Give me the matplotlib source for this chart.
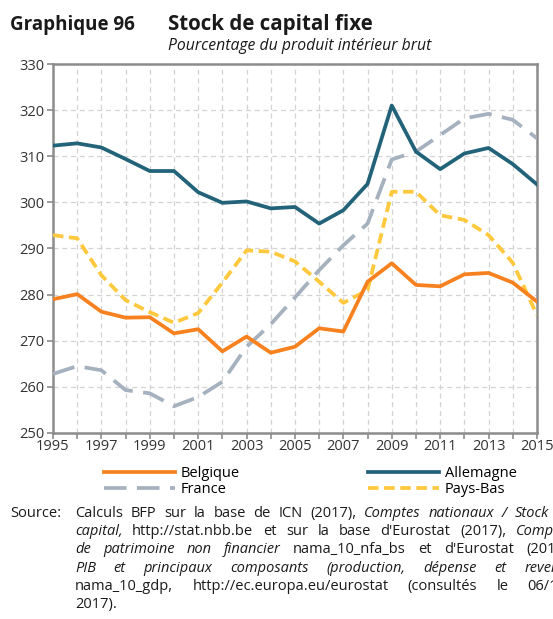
import matplotlib.pyplot as plt
import numpy as np

plt.rcParams['font.family'] = ['Open Sans', 'DejaVu Sans']

years = np.arange(1995, 2016)

# Stock de capital fixe, % du PIB
belgique = [279.0, 280.1, 276.3, 275.0, 275.1, 271.6, 272.5, 267.7, 270.9, 267.4,
            268.7, 272.7, 272.0, 282.8, 286.8, 282.1, 281.8, 284.4, 284.7, 282.6, 278.5]
allemagne = [312.3, 312.8, 311.9, 309.4, 306.8, 306.8, 302.2, 299.9, 300.2, 298.7,
             299.0, 295.4, 298.3, 304.0, 321.0, 311.0, 307.2, 310.6, 311.8, 308.3, 303.9]
france = [262.8, 264.5, 263.6, 259.3, 258.6, 255.8, 257.8, 261.1, 268.7, 273.6,
          279.4, 285.3, 290.7, 295.4, 309.3, 311.0, 314.6, 318.2, 319.2, 317.9, 313.9]
pays_bas = [292.9, 292.2, 284.2, 278.8, 276.2, 273.9, 276.0, 282.6, 289.6, 289.3,
            287.2, 282.8, 278.2, 281.0, 302.3, 302.3, 297.2, 296.2, 292.9, 286.9, 275.6]

c_be = '#F7811E'
c_de = '#22637A'
c_fr = '#A6B1BF'
c_nl = '#FFC83D'
grey = '#8C8C8C'
txt = '#1A1A1A'
W, H = 553, 619

fig = plt.figure(figsize=(5.53, 6.19), dpi=100)
ax = fig.add_axes([0.0958, 0.3005, 0.8752, 0.5961])

ax.plot(years, belgique, color=c_be, lw=2.7, label='Belgique', zorder=4)
ax.plot(years, allemagne, color=c_de, lw=2.7, label='Allemagne', zorder=4)
ax.plot(years, france, color=c_fr, lw=2.7, dashes=(6.0, 2.8), label='France', zorder=3)
ax.plot(years, pays_bas, color=c_nl, lw=2.7, dashes=(2.8, 1.5), label='Pays-Bas', zorder=3)

ax.set_xlim(1995, 2015)
ax.set_ylim(250, 330)
ax.set_xticks(np.arange(1995, 2016, 2))
ax.set_xticks(np.arange(1995, 2016, 1), minor=True)
ax.set_yticks(np.arange(250, 331, 10))

ax.grid(True, which='both', axis='x', color='#D3D3D3', ls=(0, (4, 3)), lw=0.9)
ax.grid(True, which='major', axis='y', color='#D3D3D3', ls=(0, (4, 3)), lw=0.9)

for s in ax.spines.values():
    s.set_color(grey)
    s.set_linewidth(1.8)
ax.tick_params(axis='both', which='both', color=grey, width=1.2, length=4,
               labelsize=10.5, labelcolor='#333333')
ax.tick_params(axis='y', pad=2)
ax.tick_params(axis='x', pad=0)

# titre
fig.text(10 / W, 1 - 30 / H, 'Graphique 96', fontsize=13.5, fontweight='bold',
         color=txt, va='baseline')
fig.text(168 / W, 1 - 30 / H, 'Stock de capital fixe', fontsize=14.8,
         fontweight='bold', color=txt, va='baseline')
fig.text(168 / W, 1 - 50 / H, 'Pourcentage du produit intérieur brut', fontsize=11.3,
         style='italic', color=txt, va='baseline')

# légende en deux blocs
h = {l.get_label(): l for l in ax.get_lines()}
for names, x0 in ((['Belgique', 'France'], 104), (['Allemagne', 'Pays-Bas'], 368)):
    fig.legend([h[n] for n in names], names, loc='upper left',
               bbox_to_anchor=(x0 / W, 1 - 466 / H), frameon=False,
               fontsize=10.5, handlelength=4.85, handletextpad=0.4,
               labelspacing=0.05, borderpad=0, borderaxespad=0)

# source, texte justifié (la dernière ligne reste à gauche)
src = [
    [('Calculs BFP sur la base de ICN (2017),', 'normal'),
     ('Comptes nationaux / Stock de', 'italic')],
    [('capital,', 'italic'),
     ('http://stat.nbb.be et sur la base d\'Eurostat (2017),', 'normal'),
     ('Comptes', 'italic')],
    [('de patrimoine non financier', 'italic'),
     ('nama_10_nfa_bs et d\'Eurostat (2017),', 'normal')],
    [('PIB et principaux composants (production, dépense et revenu)', 'italic')],
    [('nama_10_gdp, http://ec.europa.eu/eurostat (consultés le 06/11/', 'normal')],
    [('2017).', 'normal')],
]
fig.text(10 / W, 1 - 517 / H, 'Source:', fontsize=10.5, color=txt, va='baseline')
renderer = fig.canvas.get_renderer()
x_left, x_right = 75.0, 572.0
for i, parts in enumerate(src):
    yb = 1 - (517 + i * 18.2) / H
    words = []
    for s, st in parts:
        words += [(w, st) for w in s.split(' ')]
    arts = [fig.text(0, yb, w, fontsize=10.5, style=st, color=txt, va='baseline')
            for w, st in words]
    widths = [a.get_window_extent(renderer).width for a in arts]
    space = fig.text(0, 0, 'a a', fontsize=10.5).get_window_extent(renderer).width - \
        2 * fig.text(0, 0, 'a', fontsize=10.5, alpha=0).get_window_extent(renderer).width
    if i < len(src) - 1 and len(arts) > 1:
        gap = (x_right - x_left - sum(widths)) / (len(arts) - 1)
    else:
        gap = space
    x = x_left
    for a, w in zip(arts, widths):
        a.set_x(x / W)
        x += w + gap
for t in fig.texts:
    if t.get_text() in ('a a', 'a'):
        t.remove()

fig.savefig('out.png', dpi=100)
